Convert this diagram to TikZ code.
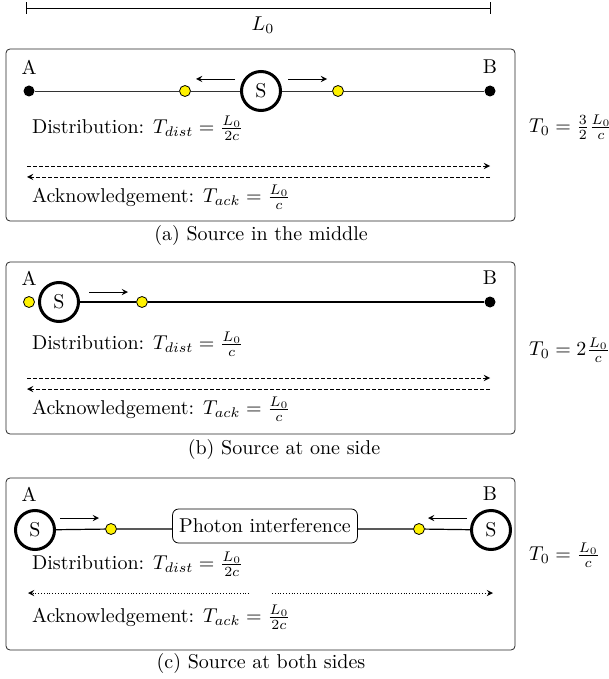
\documentclass[tikz,border=0pt]{standalone}
\usepackage{amsmath}
\usepackage{tikz}
\usetikzlibrary{positioning}
\tikzset{
  endpt/.style={circle,fill=black,inner sep=0pt,minimum size=5.5pt},
  photon/.style={circle,draw=black,fill=yellow,inner sep=0pt,minimum size=5.5pt},
  srcnode/.style={circle,draw=black,line width=1.5pt,inner sep=0pt,minimum size=19.5pt},
  panel/.style={draw=black!85,rounded corners=2pt},
  flowdash/.style={dash pattern=on 2pt off 1pt,->},
  flowdot/.style={densely dotted,->},
  boxlabel/.style={anchor=west},
}
\begin{document}
\begin{tikzpicture}[x=0.5pt,y=-0.5pt,>=stealth]
  \useasboundingbox (0,0) rectangle (609,679);
  % span L0
  \coordinate (spanL) at (26,8);
  \coordinate (spanR) at (491,8);
  \draw[|-|] (spanL) -- (spanR);
  \node (spanlbl) at (263,25) {$L_0$};

  % (a) source in the middle
  \draw[panel] (6,49) rectangle (515,221);
  \node[endpt] (aA) at (29,91) {};
  \node[endpt] (aB) at (490,91) {};
  \node (aAlbl) at (29,67) {A};
  \node (aBlbl) at (490,67) {B};
  \node[srcnode] (aS) at (261,91) {S};
  \node[photon] (ap1) at (185,91) {};
  \node[photon] (ap2) at (338,91) {};
  \draw[black!80] (aA) -- (ap1) -- (aS) -- (ap2) -- (aB);
  \coordinate (aml1) at (235,79); \coordinate (aml2) at (196,79);
  \coordinate (amr1) at (288,79); \coordinate (amr2) at (327,79);
  \draw[->] (aml1) -- (aml2);
  \draw[->] (amr1) -- (amr2);
  \node[boxlabel] (adist) at (25,128) {Distribution: $T_{dist} = \frac{L_0}{2c}$};
  \coordinate (adl) at (27,166); \coordinate (adr) at (490,166);
  \coordinate (akl) at (27,177); \coordinate (akr) at (490,177);
  \draw[flowdash] (adl) -- (adr);
  \draw[flowdash] (akr) -- (akl);
  \node[boxlabel] (aack) at (25,197) {Acknowledgement: $T_{ack} = \frac{L_0}{c}$};
  \node[boxlabel] (aT) at (522,127) {$T_0 = \frac{3}{2}\frac{L_0}{c}$};
  \node (acap) at (261,236) {(a) Source in the middle};

  % (b) source at one side
  \draw[panel] (6,262) rectangle (515,434);
  \node[photon] (bA) at (29,302) {};
  \node[endpt] (bB) at (490,302) {};
  \node (bAlbl) at (29,278) {A};
  \node (bBlbl) at (490,278) {B};
  \node[srcnode] (bS) at (59,302) {S};
  \node[photon] (bp1) at (142,302) {};
  \draw[semithick] (bS) -- (bp1) -- (bB);
  \coordinate (bm1) at (89,292); \coordinate (bm2) at (128,292);
  \draw[->] (bm1) -- (bm2);
  \node[boxlabel] (bdist) at (25,344) {Distribution: $T_{dist} = \frac{L_0}{c}$};
  \coordinate (bdl) at (27,378); \coordinate (bdr) at (490,378);
  \coordinate (bkl) at (27,389); \coordinate (bkr) at (490,389);
  \draw[flowdash] (bdl) -- (bdr);
  \draw[flowdash] (bkr) -- (bkl);
  \node[boxlabel] (back) at (25,409) {Acknowledgement: $T_{ack} = \frac{L_0}{c}$};
  \node[boxlabel] (bT) at (522,350) {$T_0 = 2\frac{L_0}{c}$};
  \node (bcap) at (284,449) {(b) Source at one side};

  % (c) source at both sides
  \draw[panel] (6,478) rectangle (515,650);
  \node (cAlbl) at (29,494) {A};
  \node (cBlbl) at (490,494) {B};
  \node[srcnode] (cSl) at (35,530) {S};
  \node[srcnode] (cSr) at (491,530) {S};
  \node[photon] (cp1) at (111,529) {};
  \node[photon] (cp2) at (419,529) {};
  \node[draw,rounded corners=3pt,minimum width=90pt,minimum height=17pt] (cpi) at (265,526) {Photon interference};
  \draw[semithick] (cSl) -- (cp1) -- (cp1 -| cpi.west);
  \draw[semithick] (cSr) -- (cp2) -- (cp2 -| cpi.east);
  \coordinate (cml1) at (60,518); \coordinate (cml2) at (99,518);
  \coordinate (cmr1) at (467,518); \coordinate (cmr2) at (428,518);
  \draw[->] (cml1) -- (cml2);
  \draw[->] (cmr1) -- (cmr2);
  \node[boxlabel] (cdist) at (25,564) {Distribution: $T_{dist} = \frac{L_0}{2c}$};
  \coordinate (ckl1) at (249,593); \coordinate (ckl2) at (28,593);
  \coordinate (ckr1) at (272,593); \coordinate (ckr2) at (493,593);
  \draw[flowdot] (ckl1) -- (ckl2);
  \draw[flowdot] (ckr1) -- (ckr2);
  \node[boxlabel] (cack) at (25,617) {Acknowledgement: $T_{ack} = \frac{L_0}{2c}$};
  \node[boxlabel] (cT) at (522,555) {$T_0 = \frac{L_0}{c}$};
  \node (ccap) at (261,663) {(c) Source at both sides};
\end{tikzpicture}
\end{document}
